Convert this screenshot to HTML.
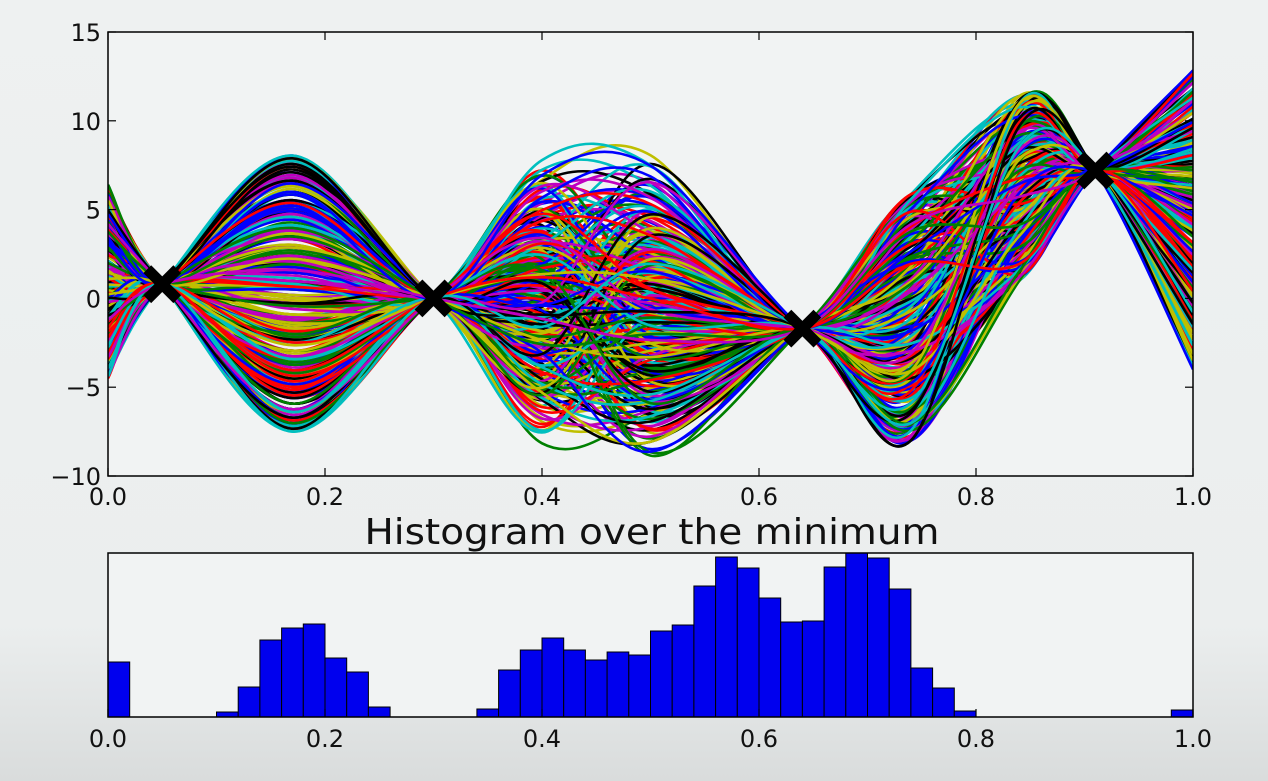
<!DOCTYPE html>
<html><head><meta charset="utf-8">
<style>
html,body{margin:0;padding:0;background:#edf0f0;}
svg{display:block;font-family:"DejaVu Sans","Liberation Sans",sans-serif;}
</style></head>
<body>
<svg id="chart" width="1268" height="781" viewBox="0 0 1268 781">
<defs>
<linearGradient id="bg" x1="0" y1="0" x2="0" y2="1">
<stop offset="0" stop-color="#eef1f1"/><stop offset="0.8" stop-color="#ebeeee"/><stop offset="1" stop-color="#d9dcdc"/>
</linearGradient>
<clipPath id="topclip"><rect x="108" y="32" width="1085" height="444"/></clipPath>
</defs>
<rect x="0" y="0" width="1268" height="781" fill="url(#bg)"/>
<rect x="108" y="32" width="1085" height="444" fill="#f1f3f3"/>
<g id="curves" clip-path="url(#topclip)"></g>
<g id="markers"></g>
<rect x="108" y="32" width="1085" height="444" fill="none" stroke="#000" stroke-width="1.5"/>
<g id="topticks"></g>
<text x="652" y="544" text-anchor="middle" font-size="36" fill="#111" textLength="575" lengthAdjust="spacingAndGlyphs">Histogram over the minimum</text>
<rect x="108" y="553" width="1085" height="164" fill="#f1f3f3"/>
<g id="bars"></g>
<rect x="108" y="553" width="1085" height="164" fill="none" stroke="#000" stroke-width="1.5"/>
<g id="histticks"></g>
</svg>
<script>
// ---- top chart data ----
const ctrlX = [0, 0.05, 0.17, 0.30, 0.40, 0.50, 0.64, 0.74, 0.84, 0.91, 1.0];
const anchorY = [null, 0.8, null, 0.0, null, null, -1.7, null, null, 7.2, null];
const envLo = [-4.5, 0.8, -7.5, 0.0, -8.5, -10, -1.7, -8, 1, 7.2, -4];
const envHi = [6.5, 0.8, 8.2, 0.0, 8.5, 8.5, -1.7, 6, 11.5, 7.2, 13];
const fracs = [0.52,0.13,0.87,0.41,0.68,0.05,0.93,0.29,0.61,0.36,0.78,0.18,0.55,0.97,0.24,0.71,0.46,0.02,0.83,0.33,
               0.64,0.11,0.49,0.89,0.27,0.58,0.74,0.08,0.39,0.95,0.21,0.66,0.44,0.81,0.15,0.57,0.31];
const colors = ["#0000ff","#008000","#ff0000","#00bfbf","#bf00bf","#bfbf00","#000000"];
const nCurves = 320;
const obsX = [0.05, 0.30, 0.64, 0.91];
const obsY = [0.8, 0.0, -1.7, 7.2];
const xTicks = [0.0, 0.2, 0.4, 0.6, 0.8, 1.0];
const xTickLabels = ["0.0","0.2","0.4","0.6","0.8","1.0"];
const yTicks = [15, 10, 5, 0, -5, -10];
const yTickLabels = ["15","10","5","0","\u22125","\u221210"];
// ---- histogram data (50 bins over [0,1]) ----
const histCounts = [55,0,0,0,0,5,30,77,89,93,59,45,10,0,0,0,0,8,47,67,79,67,57,65,62,86,92,131,160,149,119,95,96,150,164,159,128,49,29,6,0,0,0,0,0,0,0,0,0,7];
const histMax = 164;

const NS = "http://www.w3.org/2000/svg";
const X0=108, X1=1193, Y0=32, Y1=476;
const xs = v => X0 + v*(X1-X0);
const ys = v => Y0 + (15 - v)/25*(Y1-Y0);
const HY0=553, HY1=717;
const hy = c => HY1 - c/histMax*(HY1-HY0);

function mk(tag, attrs){const e=document.createElementNS(NS,tag);for(const k in attrs)e.setAttribute(k,attrs[k]);return e;}

// curves
const cg = document.getElementById('curves');
for(let i=0;i<nCurves;i++){
  const pts = ctrlX.map((x,k)=>{
    let y;
    if(anchorY[k]!==null) y=anchorY[k];
    else {
      const a=fracs[(i+k*11)%37], b=fracs[(i*3+k*5+Math.floor(i/37))%37];
      let f=(a+b)%1;
      if(k===4||k===5){ const c=fracs[(i*5+2)%37]; f=(f*0.6+c*0.4); }
      y=envLo[k]+f*(envHi[k]-envLo[k]);
    }
    return [xs(x), ys(y)];
  });
  let d="M"+pts[0][0].toFixed(1)+","+pts[0][1].toFixed(1);
  for(let k=0;k<pts.length-1;k++){
    const p0=pts[Math.max(0,k-1)],p1=pts[k],p2=pts[k+1],p3=pts[Math.min(pts.length-1,k+2)];
    const c1=[p1[0]+(p2[0]-p0[0])/6,p1[1]+(p2[1]-p0[1])/6];
    const c2=[p2[0]-(p3[0]-p1[0])/6,p2[1]-(p3[1]-p1[1])/6];
    d+=` C${c1[0].toFixed(1)},${c1[1].toFixed(1)} ${c2[0].toFixed(1)},${c2[1].toFixed(1)} ${p2[0].toFixed(1)},${p2[1].toFixed(1)}`;
  }
  const p = mk('path',{d:d,fill:'none',stroke:colors[i%colors.length],'stroke-width':2.6});
  
  
  cg.appendChild(p);
}
// markers
const mg = document.getElementById('markers');
obsX.forEach((x,i)=>{
  const cx=xs(x), cy=ys(obsY[i]), s=15;
  const m = mk('path',{d:`M${cx-s},${cy-s}L${cx+s},${cy+s}M${cx-s},${cy+s}L${cx+s},${cy-s}`,stroke:'#000','stroke-width':11});
  
  
  mg.appendChild(m);
});
// top ticks
const tg = document.getElementById('topticks');
xTicks.forEach((v,i)=>{
  const x=xs(v);
  tg.appendChild(mk('line',{x1:x,y1:Y1,x2:x,y2:Y1-8,stroke:'#000','stroke-width':1.2}));
  tg.appendChild(mk('line',{x1:x,y1:Y0,x2:x,y2:Y0+8,stroke:'#000','stroke-width':1.2}));
  const t=mk('text',{x:x,y:505,'text-anchor':'middle','font-size':24,fill:'#111'});
  t.textContent=xTickLabels[i];
  
  
  tg.appendChild(t);
});
yTicks.forEach((v,i)=>{
  const y=ys(v);
  tg.appendChild(mk('line',{x1:X0,y1:y,x2:X0+8,y2:y,stroke:'#000','stroke-width':1.2}));
  tg.appendChild(mk('line',{x1:X1,y1:y,x2:X1-8,y2:y,stroke:'#000','stroke-width':1.2}));
  const t=mk('text',{x:101,y:y+9,'text-anchor':'end','font-size':24,fill:'#111'});
  t.textContent=yTickLabels[i];
  
  
  tg.appendChild(t);
});
// histogram bars
const bg = document.getElementById('bars');
const bw=(X1-X0)/histCounts.length;
histCounts.forEach((c,i)=>{
  if(c<=0) return;
  const r=mk('rect',{x:X0+i*bw,y:hy(c),width:bw,height:HY1-hy(c),fill:'#0000ee',stroke:'#000','stroke-width':1});
  
  
  bg.appendChild(r);
});
const hg = document.getElementById('histticks');
xTicks.forEach((v,i)=>{
  const x=xs(v);
  hg.appendChild(mk('line',{x1:x,y1:HY1,x2:x,y2:HY1-8,stroke:'#000','stroke-width':1.2}));
  const t=mk('text',{x:x,y:747,'text-anchor':'middle','font-size':24,fill:'#111'});
  t.textContent=xTickLabels[i];
  
  
  hg.appendChild(t);
});
</script>
</body></html>
